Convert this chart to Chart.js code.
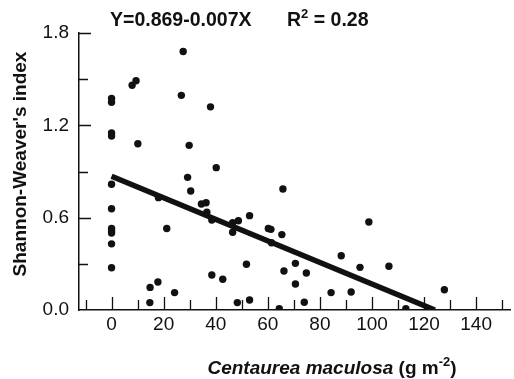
<!DOCTYPE html>
<html>
<head>
<meta charset="utf-8">
<script src="https://cdn.jsdelivr.net/npm/chart.js@4"></script>
<style>
html, body { margin: 0; padding: 0; background: #fff; }
#wrap { width: 514px; height: 379px; }
</style>
</head>
<body>
<div id="wrap"><canvas id="chart" width="514" height="379"></canvas></div>
<script>
// Centaurea maculosa biomass (g m-2) vs Shannon-Weaver's index
const weedMass = [0, 0, 0, 0, 0, 0, 0, 0, 0, 0, 0,
    7.9, 9.4, 27.5, 26.8, 38, 10.1, 29.8, 40.2, 29.2, 30.4,
    18, 34.5, 36.3, 36.6, 38.5, 21.2, 46.5, 46.5, 48.7, 53,
    51.8, 38.5, 42.7, 14.8, 17.8, 24.2, 14.7, 48.3, 53, 65.8,
    60.2, 61.2, 61.4, 65.4, 98.8, 88.2, 70.6, 66.2, 74.8, 95.4,
    106.5, 70.6, 84.3, 92, 74, 127.8, 64.4, 113];
const diversity = [1.375, 1.35, 1.15, 1.13, 0.817, 0.658, 0.53, 0.513, 0.5, 0.43, 0.275,
    1.46, 1.49, 1.68, 1.395, 1.32, 1.08, 1.07, 0.925, 0.862, 0.773,
    0.73, 0.689, 0.697, 0.635, 0.585, 0.53, 0.505, 0.567, 0.58, 0.613,
    0.297, 0.227, 0.2, 0.147, 0.182, 0.113, 0.048, 0.048, 0.065, 0.786,
    0.53, 0.524, 0.437, 0.49, 0.572, 0.353, 0.303, 0.253, 0.24, 0.277,
    0.284, 0.169, 0.113, 0.117, 0.05, 0.132, 0.008, 0.008];

// fitted line Y = 0.869 - 0.007X
const intercept = 0.869;
const slope = -0.007;

const xTicks = [0, 20, 40, 60, 80, 100, 120, 140];
const yTicks = [0, 0.6, 1.2, 1.8];

const ink = '#111';
const fontFamily = '"Liberation Sans", Arial, sans-serif';

const points = weedMass.map((x, i) => ({x: x, y: diversity[i]}));
const fitLine = [{x: 0, y: intercept}, {x: -intercept / slope, y: 0}];

// inward ticks, titles
const decorations = {
    id: 'decorations',
    afterDraw(c) {
        const ctx = c.ctx;
        const xs = c.scales.x, ys = c.scales.y;
        const area = c.chartArea;
        ctx.save();
        ctx.strokeStyle = ink;
        ctx.lineWidth = 1.3;
        ctx.beginPath();
        for (let v = -10; v <= 150; v += 10) {
            const px = Math.round(xs.getPixelForValue(v)) + 0.5;
            const len = v % 20 === 0 ? 13 : 10;
            ctx.moveTo(px, area.bottom);
            ctx.lineTo(px, area.bottom - len);
        }
        for (let v = 0.3; v <= 1.81; v += 0.3) {
            const py = Math.round(ys.getPixelForValue(v)) + 0.5;
            const len = Math.round(v * 10) % 6 === 0 ? 12 : 9;
            ctx.moveTo(area.left, py);
            ctx.lineTo(area.left + len, py);
        }
        ctx.stroke();

        ctx.fillStyle = ink;
        ctx.textBaseline = 'alphabetic';
        ctx.textAlign = 'left';

        // equation on top
        ctx.font = 'bold 19.5px ' + fontFamily;
        ctx.fillText('Y=0.869-0.007X', 110, 26);
        let x = 287;
        ctx.fillText('R', x, 26);
        x += ctx.measureText('R').width;
        ctx.font = 'bold 13px ' + fontFamily;
        ctx.fillText('2', x, 18);
        x += ctx.measureText('2').width;
        ctx.font = 'bold 19.5px ' + fontFamily;
        ctx.fillText(' = 0.28', x, 26);

        // x axis title
        const parts = [
            ['bold italic 19px ', 'Centaurea maculosa', 0],
            ['bold 19px ', ' (g m', 0],
            ['bold 13px ', '-2', -8],
            ['bold 19px ', ')', 0]
        ];
        let total = 0;
        parts.forEach(p => { ctx.font = p[0] + fontFamily; total += ctx.measureText(p[1]).width; });
        x = 332 - total / 2;
        parts.forEach(p => {
            ctx.font = p[0] + fontFamily;
            ctx.fillText(p[1], x, 374 + p[2]);
            x += ctx.measureText(p[1]).width;
        });

        // y axis title
        ctx.translate(21, 164);
        ctx.rotate(-Math.PI / 2);
        ctx.textAlign = 'center';
        ctx.textBaseline = 'middle';
        ctx.font = 'bold 19px ' + fontFamily;
        ctx.fillText("Shannon-Weaver's index", 0, 0);
        ctx.restore();
    }
};

new Chart(document.getElementById('chart'), {
    type: 'scatter',
    data: {
        datasets: [
            {
                type: 'line',
                data: fitLine,
                borderColor: ink,
                borderWidth: 5.5,
                pointRadius: 0,
                fill: false
            },
            {
                data: points,
                backgroundColor: ink,
                borderColor: ink,
                borderWidth: 0,
                pointRadius: 3.7
            }
        ]
    },
    options: {
        responsive: false,
        animation: false,
        layout: { padding: { top: 33, right: 0, left: 0, bottom: 0 } },
        plugins: { legend: { display: false }, tooltip: { enabled: false } },
        scales: {
            x: {
                type: 'linear',
                min: -12.5,
                max: 153,
                afterBuildTicks: s => { s.ticks = xTicks.map(v => ({value: v})); },
                afterFit: s => { s.height = 69; },
                grid: { display: false, drawTicks: false },
                border: { display: true, color: ink, width: 1.5 },
                ticks: { color: ink, padding: 3, font: { family: fontFamily, size: 19 } }
            },
            y: {
                min: 0,
                max: 1.8,
                afterBuildTicks: s => { s.ticks = yTicks.map(v => ({value: v})); },
                afterFit: s => { s.width = 79; },
                grid: { display: false, drawTicks: false },
                border: { display: true, color: ink, width: 1.5 },
                ticks: { color: ink, padding: 10, font: { family: fontFamily, size: 19 },
                    callback: v => v.toFixed(1) }
            }
        }
    },
    plugins: [decorations]
});
</script>
</body>
</html>
